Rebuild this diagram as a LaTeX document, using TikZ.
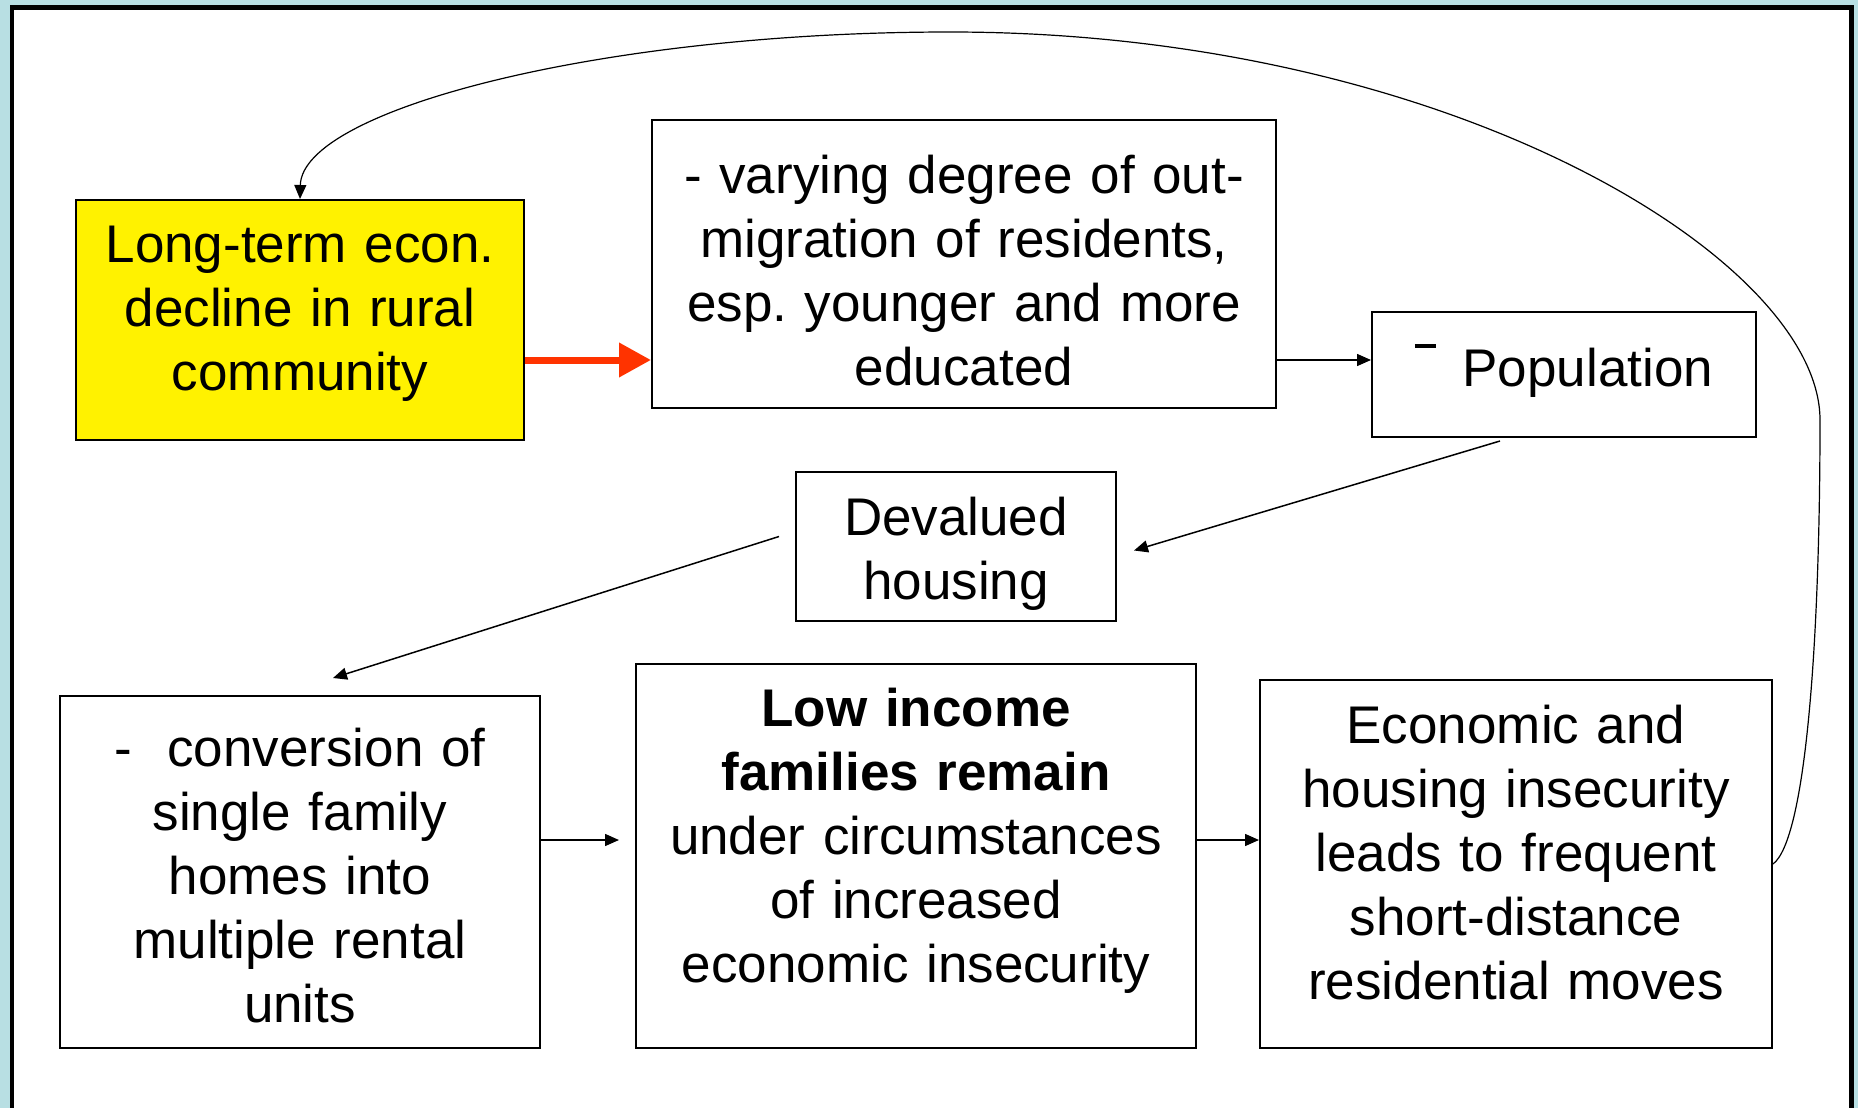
\documentclass[tikz,border=0pt]{standalone}
\usepackage{fontspec}
\setmainfont{Liberation Sans}
\usetikzlibrary{arrows.meta, calc, positioning}
\definecolor{framebg}{HTML}{B8DFE3}
\definecolor{arrowred}{HTML}{FF3300}
\frenchspacing
\begin{document}
\begin{tikzpicture}[x=0.5pt, y=-0.5pt,
  every node/.style={draw, line width=1pt, align=center, inner sep=0pt,
    font=\fontsize{26.5}{32}\selectfont},
  textlift/.style={
    execute at begin node={\rule{0pt}{\dimexpr 21pt+(#1pt)/2\relax}},
    execute at end node={\rule[\dimexpr (#1pt)/2-21pt\relax]{0pt}{0pt}}},
  link/.style={-{Triangle[length=7pt,width=6pt]}, line width=0.75pt},
  bigred/.style={-{Triangle[length=16pt,width=16.5pt]}, line width=3.5pt, draw=arrowred}]
\useasboundingbox (0,0) rectangle (1858,1108);
% Frame
\fill[framebg] (0,0) rectangle (1858,1108);
\draw[line width=2.2pt, fill=white] (12,7.5) rectangle (1851.5,1140);
% Nodes
\node[fill=yellow, minimum width=224pt, minimum height=120pt, text width=216pt,
  textlift=6.7] (decline) at (300,320)
  {Long-term econ.\\decline in rural\\community};
\node[minimum width=312pt, minimum height=144pt, text width=304pt,
  textlift=25.3] (migrate) at (964,264)
  {- varying degree of out-\\migration of residents,\\esp.\ younger and more\\educated};
\node[minimum width=192pt, minimum height=62.5pt, text width=184pt,
  textlift=11.5] (popul) at (1564,374.5)
  {\rule[0.72em]{0.4em}{0.07em}\hspace{0.5em}Population};
\node[minimum width=160pt, minimum height=74.5pt, text width=152pt,
  textlift=20.5] (devalue) at (956,546.5)
  {Devalued\\housing};
\node[minimum width=240pt, minimum height=176pt, text width=232pt,
  textlift=22.7] (convert) at (300,872)
  {-\ \ conversion of\\single family\\homes into\\multiple rental\\units};
\node[minimum width=280pt, minimum height=192pt, text width=272pt,
  textlift=-1.3] (lowinc) at (916,856)
  {\textbf{Low income}\\\textbf{families remain}\\under circumstances\\of increased\\economic insecurity};
\node[minimum width=256pt, minimum height=184pt, text width=248pt,
  textlift=7.3] (insecure) at (1516,864)
  {Economic and\\housing insecurity\\leads to frequent\\short-distance\\residential moves};
% Arrows
\draw[bigred] ($(decline.east)+(0,40)$) -- ($(migrate.west)+(0,96)$);
\draw[link] ($(migrate.east)+(0,96)$) -- ($(popul.west)+(0,-14.5)$);
\draw[link] ($(popul.south)+(-64,3)$) -- ($(devalue.east)+(17,4)$);
\draw[link] ($(devalue.west)+(-16,-10)$) -- ($(convert.north)+(33,-17)$);
\draw[link] ($(convert.east)+(0,-32)$) -- ($(lowinc.west)+(-16,-16)$);
\draw[link] ($(lowinc.east)+(0,-16)$) -- ($(insecure.west)+(0,-24)$);
\draw[link, line width=0.6pt] (insecure.east)
  .. controls (1805,840) and (1820,650) .. (1820,420)
  .. controls (1820,260) and (1450,32) .. (950,32)
  .. controls (600,32) and (302,110) .. (decline.north);
\end{tikzpicture}
\end{document}
